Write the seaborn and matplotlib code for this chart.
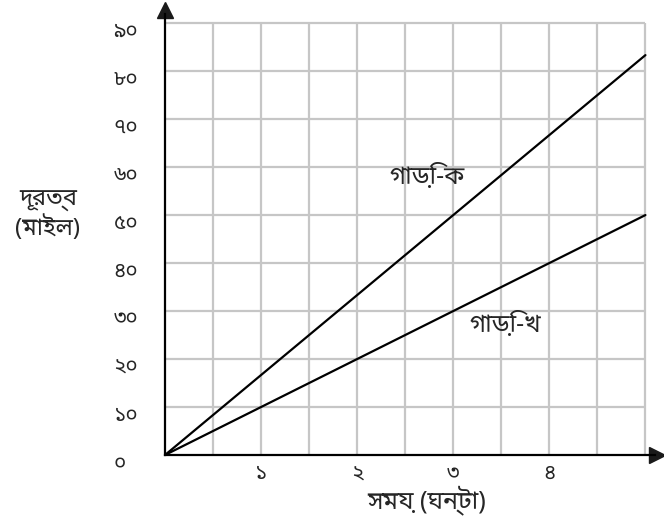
import matplotlib
matplotlib.use("Agg")
import matplotlib.pyplot as plt
import matplotlib.transforms as mtransforms
import seaborn as sns
import pandas as pd
from matplotlib import font_manager

# distance (miles) against time (hours) for the two cars
hours = [0, 1, 2, 3, 4, 5]
car_ka = [0, 16.67, 33.33, 50, 66.67, 83.33]
car_kha = [0, 10, 20, 30, 40, 50]

x_ticks = [1, 2, 3, 4]
x_tick_labels = ["১", "২", "৩", "৪"]
y_ticks = [0, 10, 20, 30, 40, 50, 60, 70, 80, 90]
y_tick_labels = ["০", "১০", "২০", "৩০", "৪০", "৫০", "৬০", "৭০", "৮০", "৯০"]

x_label = "সময় (ঘন্টা)"
y_label = "দূরত্ব\n(মাইল)"
label_ka = "গাড়ি-ক"
label_kha = "গাড়ি-খ"

sns.set_theme(style="white")
names = [f.name for f in font_manager.fontManager.ttflist]
bengali = [n for n in set(names) if "Bengali" in n or "Bangla" in n or "Lohit" in n]
plt.rcParams["font.family"] = bengali + ["Noto Sans", "DejaVu Sans"]

df = pd.DataFrame({"hours": hours + hours,
                   "distance": car_ka + car_kha,
                   "car": [label_ka] * len(hours) + [label_kha] * len(hours)})

fig = plt.figure(figsize=(6.64, 5.2), dpi=100)
ax = fig.add_axes([0.2485, 0.125, 0.738, 0.849])

# grid only inside 0..5 h and 0..90 miles
ax.hlines(y_ticks[1:], 0, 5, color="#c6c6c6", lw=1.6, zorder=1)
ax.vlines([0.5 * i for i in range(1, 11)], 0, 90, color="#c6c6c6", lw=1.6, zorder=1)

sns.lineplot(data=df, x="hours", y="distance", units="car", estimator=None,
             color="black", lw=1.6, ax=ax, legend=False, zorder=3)

ax.set_xlim(0, 5.1)
ax.set_ylim(0, 92)
for s in ["top", "right"]:
    ax.spines[s].set_visible(False)
for s in ["left", "bottom"]:
    ax.spines[s].set_linewidth(1.6)
    ax.spines[s].set_color("black")
ax.plot(1.005, 0, ">k", markersize=11, transform=ax.transAxes, clip_on=False)
ax.plot(0, 1.008, "^k", markersize=11, transform=ax.transAxes, clip_on=False)

ax.set_xticks(x_ticks)
ax.set_xticklabels(x_tick_labels, fontsize=15)
ax.set_yticks(y_ticks)
ax.set_yticklabels(y_tick_labels, fontsize=15)
ax.tick_params(axis="x", length=0, pad=6)
ax.tick_params(axis="y", length=0, pad=37)
shift = mtransforms.ScaledTranslation(0, -4 / 72, fig.dpi_scale_trans)
for t in ax.get_yticklabels():
    t.set_horizontalalignment("left")
    t.set_transform(t.get_transform() + shift)

ax.set_xlabel("")
ax.set_ylabel("")
fig.text(0.643, 0.038, x_label, ha="center", va="center", fontsize=18)
fig.text(0.072, 0.587, y_label, ha="center", va="center", fontsize=17, linespacing=1.15)

ax.text(2.73, 57.9, label_ka, ha="center", va="center", fontsize=18)
ax.text(3.54, 27.1, label_kha, ha="center", va="center", fontsize=18)

fig.savefig("out.png", dpi=100)
